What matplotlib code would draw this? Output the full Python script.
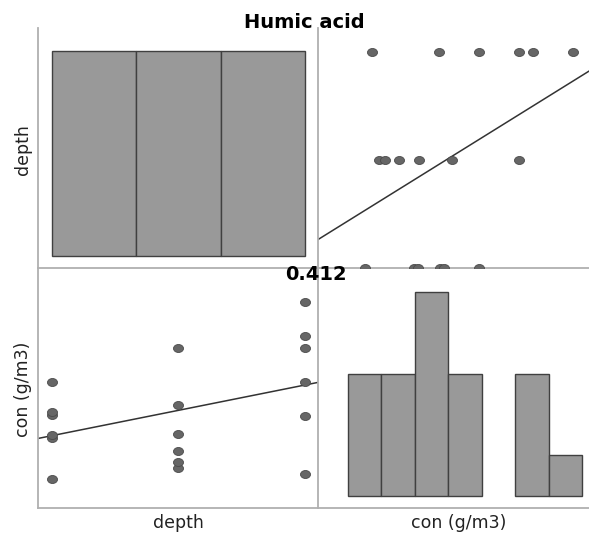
import numpy as np
import matplotlib
matplotlib.use("Agg")
import matplotlib.pyplot as plt
from matplotlib.path import Path
from matplotlib.transforms import Affine2D

# ---- data ----
depth = [1, 1, 1, 1, 1, 1, 2, 2, 2, 2, 2, 2, 3, 3, 3, 3, 3, 3]
con = [1.13, 1.49, 1.52, 1.69, 1.72, 1.98,
       1.23, 1.28, 1.38, 1.53, 1.78, 2.28,
       1.18, 1.68, 1.98, 2.28, 2.38, 2.68]
con_bin_range = (1.0, 2.75)
con_bins = 7
depth_bins = 3
title = "Humic acid"
var_labels = ["depth", "con (g/m3)"]

depth = np.array(depth, float)
con = np.array(con, float)

W, H = 589, 533
fig = plt.figure(figsize=(W / 100, H / 100), dpi=100)


def add_ax(x0, y0, x1, y1):
    return fig.add_axes([x0 / W, 1 - y1 / H, (x1 - x0) / W, (y1 - y0) / H])


xL, xM, xR = 38.3, 318.0, 589.0
yT, yM, yB = 28.0, 268.0, 508.0
ax_tl = add_ax(xL, yT, xM, yM)
ax_tr = add_ax(xM, yT, xR, yM)
ax_bl = add_ax(xL, yM, xM, yB)
ax_br = add_ax(xM, yM, xR, yB)

spine_col = "#b0b0b0"
for ax in (ax_tl, ax_tr, ax_bl, ax_br):
    ax.set_xticks([])
    ax.set_yticks([])
    for s in ("top", "right"):
        ax.spines[s].set_visible(False)
    for s in ("left", "bottom"):
        ax.spines[s].set_color(spine_col)
        ax.spines[s].set_linewidth(1.3)
    ax.patch.set_alpha(0)

bar_fc = "#999999"
bar_ec = "#404040"
dot_fc = "#666666"
dot_ec = "#4a4a4a"
line_c = "#333333"
ell = Path.unit_circle().transformed(Affine2D().scale(1.25, 1.0))

# top-left: histogram of depth
cnt, edges = np.histogram(depth, bins=depth_bins)
ax_tl.bar(edges[:-1], cnt, width=np.diff(edges), align="edge",
          color=bar_fc, edgecolor=bar_ec, linewidth=1.0)
ax_tl.set_xlim(0.889, 3.106)
ax_tl.set_ylim(-0.351, 6.66)

# top-right: depth vs con
ax_tr.scatter(con, depth, marker=ell, s=52, c=dot_fc, edgecolors=dot_ec,
              linewidths=0.6, zorder=3)
ax_tr.set_xlim(0.776, 2.80)
ax_tr.set_ylim(1.0, 3.221)
b1, a1 = np.polyfit(con, depth, 1)
xx = np.array(ax_tr.get_xlim())
ax_tr.plot(xx, a1 + b1 * xx, color=line_c, lw=1.1, zorder=2)

# bottom-left: con vs depth
ax_bl.scatter(depth, con, marker=ell, s=52, c=dot_fc, edgecolors=dot_ec,
              linewidths=0.6, zorder=3)
ax_bl.set_xlim(0.889, 3.106)
ax_bl.set_ylim(0.879, 2.977)
b2, a2 = np.polyfit(depth, con, 1)
xx = np.array(ax_bl.get_xlim())
ax_bl.plot(xx, a2 + b2 * xx, color=line_c, lw=1.1, zorder=2)

# bottom-right: histogram of con
cnt, edges = np.histogram(con, bins=con_bins, range=con_bin_range)
m = cnt > 0
ax_br.bar(edges[:-1][m], cnt[m], width=np.diff(edges)[m], align="edge",
          color=bar_fc, edgecolor=bar_ec, linewidth=1.0)
ax_br.set_xlim(0.776, 2.80)
ax_br.set_ylim(-0.294, 5.59)

# texts
r = np.corrcoef(depth, con)[0, 1]
fig.text(304 / W, 1 - 23 / H, title, ha="center", va="center",
         fontsize=14, fontweight="bold", family="DejaVu Sans")
fig.text(315.5 / W, 1 - 274 / H, f"{r:.3f}", ha="center", va="center",
         fontsize=14, fontweight="bold", family="DejaVu Sans", zorder=5)
lab_kw = dict(fontsize=12.5, family="DejaVu Sans", color="#222222")
fig.text(23 / W, 1 - 150 / H, var_labels[0], rotation=90, ha="center", va="center", **lab_kw)
fig.text(23 / W, 1 - 389 / H, var_labels[1], rotation=90, ha="center", va="center", **lab_kw)
fig.text(178 / W, 1 - 523 / H, var_labels[0], ha="center", va="center", **lab_kw)
fig.text(459 / W, 1 - 523 / H, var_labels[1], ha="center", va="center", **lab_kw)

fig.savefig("out.png", dpi=100)
